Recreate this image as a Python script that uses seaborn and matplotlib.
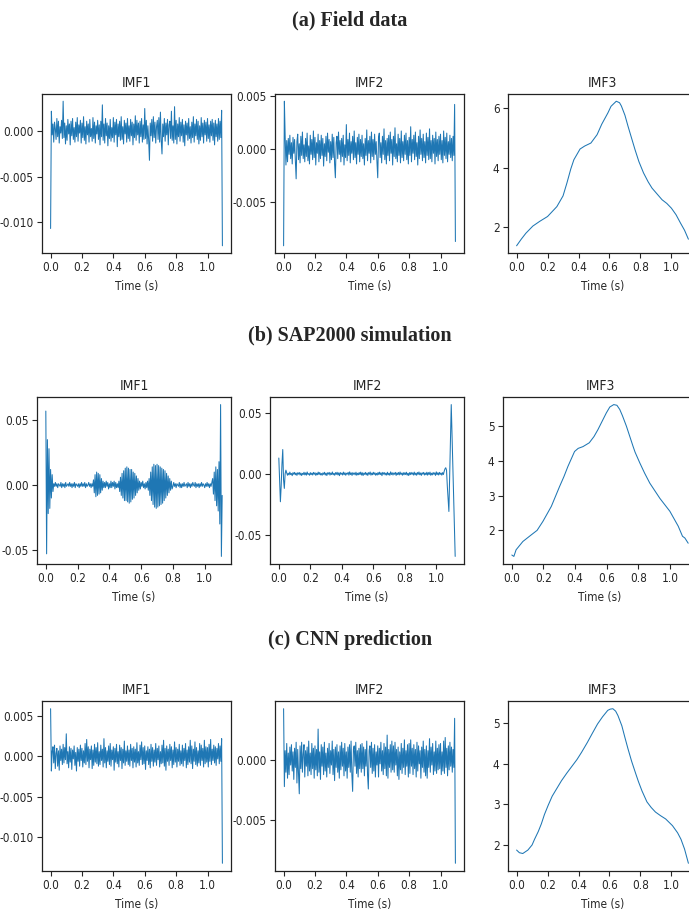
import numpy as np
import matplotlib.pyplot as plt
import matplotlib.ticker as mticker
import seaborn as sns

# sample step of the IMF signals (s)
dt = 0.005

# (a) field data, IMF1 / IMF2 in units of 1e-4
imf1_a = [-107, 22, -4, 8, -12, 10, 3, -9, 14, -6, 11, -13, 5, -2, 12, -8, 33, -7, 9, -14,
          6, -10, 13, -3, 8, -15, 11, -5, 14, -9, 4, -12, 10, -6, 15, -11, 7, -2, 12, -13,
          9, -7, 16, -10, 5, -14, 11, -4, 8, -12, 13, -6, 3, -11, 15, -8, 10, -13, 6, -3,
          12, -9, 7, -15, 11, -6, 29, -10, 8, -13, 14, -5, 9, -16, 6, -8, 13, -11, 4, -7,
          15, -12, 10, -4, 13, -17, 8, -6, 11, -10, 16, -9, 5, -14, 12, -3, 9, -12, 14, -8,
          6, -11, 13, -5, 10, -15, 8, -7, 17, -10, 12, -4, 9, -13, 11, -6, 14, -12, 7, -9,
          25, -8, 12, -14, 6, -10, -32, 9, -5, 13, -11, 16, -7, 10, -13, 5, 12, -9, 15, -12,
          21, -10, -25, 8, -6, 14, -11, 9, -4, 13, -15, 7, 11, -8, 22, -10, 6, -13, 27, -9,
          12, -14, 8, -6, 15, -11, 10, -5, 13, -12, 7, -16, 11, -4, 9, -10, 14, -8, 5, -13,
          10, -7, 16, -12, 8, -5, 13, -9, 11, -14, 6, -10, 15, -6, 9, -13, 12, -4, 10, -11,
          14, -8, 7, -12, 11, -5, 13, -10, 9, -15, 12, -6, 8, -11, 14, -9, 11, -7, 23, -126]
imf2_a = [-91, 45, 12, -15, 8, -12, 10, -5, 13, -9, 6, -14, 11, -4, 9, -11, -28, 7, 14, -10,
          5, -13, 12, -6, 16, -9, 4, -12, 10, -7, 15, -11, 3, -14, 13, -5, 9, -10, 17, -8,
          11, -15, 6, -4, 14, -12, 8, -9, 13, -6, 10, -16, 5, -7, 12, -11, 15, -3, 9, -13,
          7, -10, 14, -8, 11, -14, -27, 6, 12, -9, 16, -5, 8, -12, 10, -7, 13, -15, 4, -8,
          23, -11, 9, -6, 15, -13, 7, -4, 12, -10, 17, -8, 6, -14, 11, -5, 14, -12, 9, -7,
          13, -9, 5, -15, 10, -6, 18, -11, 8, -4, 12, -13, 16, -7, 9, -10, 14, -5, 7, -12,
          -27, 11, 15, -8, 6, -13, 12, -5, 19, -10, 8, -14, 10, -6, 13, -11, 16, -4, 9, -15,
          12, -7, 20, -9, 5, -12, 14, -6, 10, -13, 17, -8, 7, -11, 13, -5, 15, -10, 8, -14,
          11, -6, 21, -12, 9, -4, 13, -10, 16, -7, 6, -15, 12, -9, 18, -5, 10, -11, 14, -8,
          7, -13, 15, -6, 11, -10, 19, -9, 8, -12, 13, -4, 10, -14, 16, -7, 9, -11, 12, -5,
          14, -10, 8, -13, 17, -6, 11, -9, 15, -12, 7, -5, 13, -8, 10, -11, 12, -6, 42, -87]
imf3_a_t = [0.0, 0.03, 0.06, 0.105, 0.15, 0.2, 0.26, 0.3, 0.325, 0.35, 0.37, 0.41, 0.44,
            0.48, 0.52, 0.55, 0.59, 0.61, 0.644, 0.665, 0.677, 0.7, 0.72, 0.765, 0.79, 0.82,
            0.85, 0.875, 0.94, 0.97, 1.0, 1.03, 1.06, 1.085, 1.11]
imf3_a = [1.38, 1.60, 1.80, 2.04, 2.20, 2.36, 2.69, 3.05, 3.48, 3.95, 4.26, 4.62, 4.72,
          4.82, 5.10, 5.45, 5.83, 6.05, 6.22, 6.17, 6.06, 5.75, 5.38, 4.60, 4.20, 3.82,
          3.52, 3.31, 2.92, 2.80, 2.64, 2.42, 2.13, 1.90, 1.60]

# (b) SAP2000 simulation, IMF1 in units of 1e-3, IMF2 in units of 1e-4
imf1_b = [57, -53, 35, -22, 28, -18, 12, -10, 8, -5,
          1, -1, 2, -1, 1, -2, 1, 0, -1, 2, -2, 1, -1, 1, -2, 2, -1, 0, 1, -1,
          2, -1, 1, -2, 1, -1, 2, -2, 1, 0, -1, 1, -2, 1, -1, 2, -1, 1, -1, 2,
          -2, 1, -1, 0, 2, -1, 1, -2, 1, -1,
          4, -6, 8, -9, 10, -8, 9, -7, 8, -6, 5, -4, 3, -2,
          2, -2, 3, -1, 2, -3, 1, -2, 3, -2, 2, -1, 3, -3, 2, -2, 1, -2,
          3, -5, 6, -8, 9, -10, 11, -12, 13, -12, 14, -13, 13, -14, 12, -13, 12, -11, 10, -10,
          9, -8, 7, -6, 5, -4, 3, -3,
          2, -1, 3, -2, 1, -3, 2, -2, 3, -4,
          5, -8, 10, -12, 14, -15, 16, -17, 15, -18, 16, -17, 15, -16, 14, -15, 13, -14, 12, -12,
          11, -10, 9, -8, 7, -6, 5, -4, 3, -3,
          -1, 2, -1, 1, -2, 1, 0, -1, 2, -2, 1, -2, 1, -1, 2, -1, 0, 1, -2, 2,
          -1, 1, -2, 1, -1, 2, 0, -1, 2, -2, 1, -1, 1, -2, 1, -1, 2, -1, 1, 0,
          -2, 1, -1, 2, -1, 1, -2, 1, -1, 2,
          5, -7, 10, -12, 14, -16, 12, -20, 18, -30, 62, -55, -8]
imf2_b = [130, -50, -230, -100, 80, 200, -50, -120, 0, 30,
          8, -12, 5, -9, 14, -6, 3, -15, 10, -4, 12, -8, 6, -13, 9, -3, 11, -10, 7, -14,
          4, -6, 13, -9, 8, -11, 15, -5, 2, -12, 10, -7, 6, -10, 12, -4, 9, -13, 5, -8,
          14, -6, 11, -9, 3, -12, 8, -5, 13, -10,
          6, -14, 9, -3, 12, -11, 7, -6, 15, -8, 4, -12, 10, -5, 13, -9, 8, -15, 11, -4,
          6, -10, 14, -7, 9, -12, 5, -3, 12, -11, 16, -6, 8, -13, 10, -4, 7, -9, 13, -12,
          5, -8, 11, -6, 14, -10, 9, -14, 6, -5,
          12, -9, 7, -13, 10, -4, 15, -11, 6, -8, 13, -5, 9, -12, 4, -10, 11, -7, 14, -6,
          8, -15, 12, -3, 10, -9, 6, -11, 13, -8, 5, -12, 16, -6, 9, -10, 7, -4, 12, -13,
          8, -7, 11, -9, 15, -5, 6, -12, 10, -8,
          9, -6, 13, -11, 5, -14, 10, -7, 12, -4, 8, -10, 14, -9, 6, -12, 11, -5, 15, -8,
          7, -13, 9, -3, 12, -10, 6, -8, 13, -11, 10, -6, 14, -12, 5, -9, 11, -4, 8, -13,
          16, -7, 9, -10, 12, -5, 7, -11, 10, -6,
          20, 40, 50, 30, -100, -200, -310, -20, 280, 570, 320, 70, -200, -450, -680]
imf3_b_t = [0.0, 0.013, 0.027, 0.07, 0.123, 0.16, 0.197, 0.25, 0.302, 0.33, 0.355, 0.397,
            0.42, 0.45, 0.49, 0.52, 0.545, 0.598, 0.62, 0.645, 0.665, 0.683, 0.7, 0.725,
            0.767, 0.78, 0.81, 0.84, 0.873, 0.937, 1.0, 1.053, 1.08, 1.095, 1.116]
imf3_b = [1.29, 1.25, 1.44, 1.68, 1.87, 2.00, 2.26, 2.69, 3.26, 3.55, 3.84, 4.27,
          4.36, 4.41, 4.52, 4.70, 4.90, 5.38, 5.55, 5.62, 5.60, 5.48, 5.30, 5.00,
          4.42, 4.25, 3.94, 3.65, 3.36, 2.92, 2.55, 2.12, 1.83, 1.78, 1.63]

# (c) CNN prediction, IMF1 / IMF2 in units of 1e-4
imf1_c = [59, -18, 6, 12, -8, 14, -15, 4, 10, -12, 7, -17, 13, -5, 9, -10, 15, -8, 11, -4,
          28, -9, 6, -14, 12, -7, 10, -16, 8, -3, 13, -11, 5, -18, 11, -6, 9, -12, 14, -5,
          10, -13, 7, -8, 16, -10, 21, -6, 12, -14, 9, -4, 13, -15, 8, -11, 15, -7, 11, -9,
          17, -12, 6, -10, 14, -5, 9, -13, 22, -8, 11, -14, 7, -6, 13, -10, 16, -12, 8, -4,
          12, -17, 10, -7, 15, -9, 6, -13, 14, -5, 11, -15, 9, -8, 19, -11, 7, -6, 13, -10,
          8, -12, 15, -5, 10, -14, 12, -7, 9, -13, 17, -8, 6, -11, 14, -4, 18, -10, 11, -9,
          13, -16, 7, -5, 12, -10, 9, -14, 15, -6, 11, -12, 8, -7, 16, -11, 10, -4, 13, -13,
          6, -9, 14, -8, 20, -12, 10, -17, 13, -6, 9, -11, 15, -5, 12, -14, 8, -10, 18, -7,
          11, -13, 9, -6, 15, -11, 7, -9, 14, -12, 10, -5, 16, -14, 8, -10, 12, -7, 20, -9,
          13, -15, 9, -6, 18, -10, 11, -12, 7, -8, 16, -11, 14, -5, 10, -13, 20, -9, 12, -7,
          11, -13, 15, -6, 21, -10, 9, -5, 14, -8, 12, -11, 10, -3, 16, -9, 13, -6, 22, -132]
imf2_c = [43, -22, 8, -10, 14, -15, 6, -12, 11, -4, 13, -9, 7, -16, 10, -6, 15, -19, 9, -11,
          -28, 12, -7, 15, -10, 5, 13, -14, 8, -5, 11, -13, 16, -9, 6, -12, 14, -7, 10, -15,
          12, -8, 9, -13, 26, -10, 7, -16, 13, -5, 11, -12, 15, -9, 6, -14, 10, -6, 14, -11,
          8, -4, 16, -12, 9, -17, 11, -6, 13, -10, 7, -15, 12, -8, 15, -5, 10, -13, 14, -9,
          7, -15, 11, -6, 13, -10, 16, -12, -26, 9, 12, -5, 15, -11, 8, -14, 10, -7, 13, -10,
          14, -7, 11, -13, 9, -5, 16, -12, -24, 8, 12, -6, 15, -11, 10, -9, 13, -14, 7, -4,
          12, -14, 10, -3, 15, -9, 8, -12, 14, -7, 11, -13, 21, -15, 9, -6, 13, -10, 16, -8,
          12, -10, 15, -4, 9, -13, 11, -16, 7, -8, 14, -11, 10, -6, 17, -12, 8, -5, 13, -14,
          14, -11, 17, -5, 10, -12, 13, -7, 9, -14, 15, -9, 12, -3, 8, -15, 11, -6, 16, -10,
          9, -13, 12, -15, 8, -6, 18, -10, 11, -4, 14, -12, 7, -9, 16, -11, 10, -8, 13, -7,
          14, -12, 7, -9, 16, -11, 19, -6, 10, -13, 12, -8, 15, -5, 11, -10, 9, -6, 35, -86]
imf3_c_t = [0.0, 0.018, 0.04, 0.073, 0.1, 0.116, 0.14, 0.16, 0.18, 0.204, 0.23, 0.26,
            0.29, 0.325, 0.39, 0.42, 0.457, 0.49, 0.523, 0.555, 0.589, 0.605, 0.622, 0.64,
            0.655, 0.68, 0.7, 0.72, 0.743, 0.77, 0.787, 0.81, 0.842, 0.87, 0.897, 0.93,
            0.963, 1.007, 1.04, 1.062, 1.085, 1.11]
imf3_c = [1.875, 1.81, 1.79, 1.875, 2.00, 2.14, 2.33, 2.52, 2.75, 2.975, 3.20, 3.39,
          3.58, 3.77, 4.10, 4.28, 4.52, 4.75, 4.975, 5.15, 5.31, 5.34, 5.35, 5.29,
          5.18, 4.93, 4.64, 4.36, 4.06, 3.75, 3.56, 3.33, 3.06, 2.92, 2.81, 2.72,
          2.64, 2.475, 2.30, 2.14, 1.90, 1.55]

sections = ["(a) Field data", "(b) SAP2000 simulation", "(c) CNN prediction"]
titles = ["IMF1", "IMF2", "IMF3"]

sns.set_style("ticks")
plt.rcParams["font.family"] = ["DejaVu Sans"]
plt.rcParams["font.stretch"] = "condensed"
plt.rcParams["axes.unicode_minus"] = False
plt.rcParams["axes.linewidth"] = 0.9
plt.rcParams["axes.edgecolor"] = "#222222"

fig = plt.figure(figsize=(6.89, 9.17), dpi=100)
W, H = 689, 917


def add_ax(left, top, bottom, width=189):
    return fig.add_axes([left / W, (H - bottom) / H, width / W, (bottom - top) / H])


rows = [
    (sections[0], 25, 94, 253, [42, 275, 508], 189,
     [np.array(imf1_a) * 1e-4, np.array(imf2_a) * 1e-4], (imf3_a_t, imf3_a), [0.005, 0.005, 2]),
    (sections[1], 340, 397, 564, [37, 270, 503], 194,
     [np.array(imf1_b) * 1e-3, np.array(imf2_b) * 1e-4], (imf3_b_t, imf3_b), [0.05, 0.05, 1]),
    (sections[2], 645, 701, 871, [42, 275, 508], 189,
     [np.array(imf1_c) * 1e-4, np.array(imf2_c) * 1e-4], (imf3_c_t, imf3_c), [0.005, 0.005, 1]),
]

for sec, ty, top, bot, lefts, w, noisy, smooth, steps in rows:
    fig.text(350 / W, (H - ty) / H, sec, ha="center", va="baseline",
             family="Liberation Serif", fontweight="bold", fontsize=14.5)
    for j in range(3):
        ax = add_ax(lefts[j], top, bot, w)
        if j < 2:
            y = noisy[j]
            t = np.arange(len(y)) * dt
        else:
            t, y = smooth
        sns.lineplot(x=t, y=y, ax=ax, color="#1f77b4", lw=0.75, errorbar=None)
        ax.set_title(titles[j], fontsize=10, pad=5)
        ax.set_xlabel("Time (s)", fontsize=8.5)
        ax.set_ylabel("")
        ax.xaxis.set_major_locator(mticker.MultipleLocator(0.2))
        ax.yaxis.set_major_locator(mticker.MultipleLocator(steps[j]))
        ax.tick_params(labelsize=8.5, length=3.5, width=0.8, pad=2.5)

fig.savefig("out.png", dpi=100)
